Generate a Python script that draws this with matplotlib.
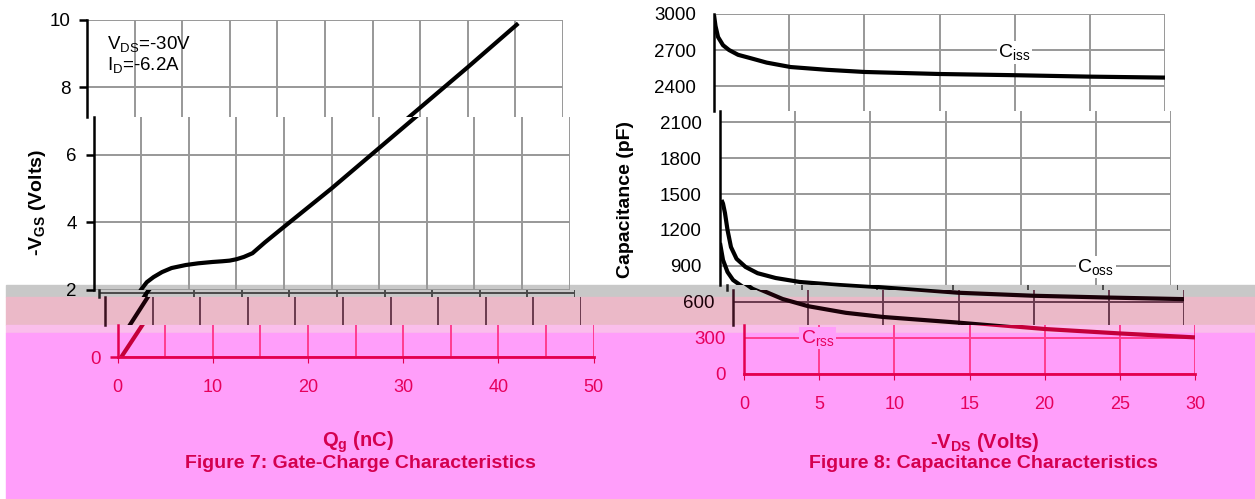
import matplotlib
matplotlib.use('Agg')
import matplotlib.pyplot as plt
from matplotlib.patches import Rectangle
from matplotlib.ticker import MultipleLocator

plt.rcParams['font.family'] = ['Liberation Sans', 'DejaVu Sans']
plt.rcParams['mathtext.fontset'] = 'custom'
plt.rcParams['mathtext.rm'] = 'Liberation Sans'
plt.rcParams['mathtext.it'] = 'Liberation Sans:italic'
plt.rcParams['mathtext.bf'] = 'Liberation Sans:bold'

# Figure 7: gate charge
qg = [0.4, 2.5, 5.0, 5.6, 6.3, 7.2, 8.2, 9.7, 11.0, 12.5, 13.5, 14.3, 15.0, 15.8,
      16.7, 18.0, 20.0, 25.0, 30.0, 35.0, 40.0, 45.3]
vgs = [0.0, 0.9, 2.0, 2.22, 2.37, 2.52, 2.64, 2.73, 2.78, 2.82, 2.84, 2.86, 2.90, 2.97,
       3.08, 3.40, 3.86, 5.0, 6.2, 7.4, 8.6, 9.9]

# Figure 8: capacitance
vds_iss = [0.0, 0.1, 0.27, 0.6, 1.0, 1.6, 2.4, 3.5, 5.1, 7.5, 10, 15, 20, 25, 30]
ciss = [2992, 2900, 2808, 2740, 2700, 2660, 2633, 2595, 2558, 2535, 2517, 2500, 2490, 2478, 2470]
vds_oss = [0.1, 0.2, 0.33, 0.5, 0.73, 1.1, 1.7, 2.5, 3.7, 5.3, 7.5, 10, 15, 20, 25, 30]
coss = [1450, 1420, 1342, 1200, 1058, 960, 892, 840, 800, 767, 745, 725, 677, 652, 637, 624]
vds_rss = [0.0, 0.2, 0.5, 0.87, 1.7, 3.3, 5.0, 7.5, 10, 15, 20, 25, 30]
crss = [1092, 950, 850, 783, 710, 625, 565, 510, 475, 428, 375, 338, 305]

W, H = 1255, 499
fig = plt.figure(figsize=(W / 100, H / 100), dpi=100)

# scanned-page colour bands (gray seam, rose seam, pink tint)
bands = [(285, 297, '#c8c8c8'), (297, 325, '#ebb9c8'), (325, 333, '#fabeeb'), (333, 499, '#ff9efa')]
for y0, y1, col in bands:
    fig.patches.append(Rectangle((6 / W, 1 - y1 / H), 1, (y1 - y0) / H,
                                 transform=fig.transFigure, color=col, zorder=-5))

styles = {
    'white': dict(grid='#989898', spine='black', curve='black', text='black'),
    'gray': dict(grid='#4a4a4a', spine='#202020', curve='black', text='black'),
    'rose': dict(grid='#6a3a4e', spine='#3a1020', curve='#1a0008', text='#1a0008'),
    'pink': dict(grid='#ff3d8f', spine='#e3004f', curve='#c4003a', text='#e6005c'),
}


def strip(left, top, bot, width, xlim, ylim, st, xmaj, xmin, ystep, show_x, tlen, ypad, xpad):
    s = styles[st]
    ax = fig.add_axes([left / W, 1 - bot / H, width / W, (bot - top) / H])
    ax.set_facecolor('none')
    ax.set_xlim(*xlim)
    ax.set_ylim(*ylim)
    for sp in ax.spines.values():
        sp.set_visible(False)
    ax.spines['left'].set_visible(True)
    ax.spines['left'].set_color(s['spine'])
    ax.spines['left'].set_linewidth(1.8)
    ax.xaxis.set_major_locator(MultipleLocator(xmaj))
    ax.xaxis.set_minor_locator(MultipleLocator(xmin))
    ax.yaxis.set_major_locator(MultipleLocator(ystep))
    ax.set_axisbelow(True)
    ax.grid(which='both', color=s['grid'], lw=1.4)
    ax.tick_params(axis='y', length=tlen if st != 'gray' else 0, width=1.8, color=s['spine'],
                   labelsize=13.5, labelcolor=s['text'], pad=ypad, labelleft=(st != 'gray'))
    if show_x:
        ax.spines['bottom'].set_visible(True)
        ax.spines['bottom'].set_color(s['spine'])
        ax.spines['bottom'].set_linewidth(2)
        ax.tick_params(axis='x', which='major', length=4, color=s['spine'],
                       labelsize=13, labelcolor=s['text'], pad=xpad)
        ax.tick_params(axis='x', which='minor', length=0)
    else:
        ax.tick_params(axis='x', which='both', length=0, labelbottom=False)
    return ax


# ---- Figure 7 ----
def v(y):
    return (357 - y) / 33.7


left_strips = [
    (87, 20, 116.5, (v(116.5), 10), 'white'),
    (93.5, 116.5, 290, (v(290), v(116.5)), 'white'),
    (99, 290, 297, (2 - 4 / 33.7, 2 + 3 / 33.7), 'gray'),
    (105, 297, 325, (v(325), v(297)), 'rose'),
    (117.5, 325, 357, (0, v(325)), 'pink'),
]
left_axes = []
for lx, top, bot, yl, st in left_strips:
    ax = strip(lx, top, bot, 476, (0, 50), yl, st, 10, 5, 2, st == 'pink', 6, 6, 12)
    ax.plot(qg, vgs, color=styles[st]['curve'], lw=3, solid_capstyle='butt')
    left_axes.append(ax)

left_axes[0].text(2.1, v(44), r'V$_{\rm DS}$=-30V', fontsize=13.5, va='center', ha='left')
left_axes[0].text(2.1, v(65), r'I$_{\rm D}$=-6.2A', fontsize=13.5, va='center', ha='left')

# ---- Figure 8 ----
def c(y):
    return (374 - y) / 0.12


right_strips = [
    (714, 14, 111, (c(111), 3000), 'white'),
    (720, 111, 285, (c(285), c(111)), 'white'),
    (727, 285, 290, (c(290), c(285)), 'gray'),
    (733, 290, 325, (c(325), c(290)), 'rose'),
    (744, 325, 374, (0, c(325)), 'pink'),
]
right_axes = []
for lx, top, bot, yl, st in right_strips:
    ax = strip(lx, top, bot, 451, (0, 30), yl, st, 5, 5, 300, st == 'pink', 0, 13, 12)
    col = styles[st]['curve']
    ax.plot(vds_iss, ciss, color=col, lw=3, solid_capstyle='butt')
    ax.plot(vds_oss, coss, color=col, lw=3, solid_capstyle='butt')
    ax.plot(vds_rss, crss, color=col, lw=3, solid_capstyle='butt')
    right_axes.append(ax)

right_axes[0].text(20, 2680, r'C$_{\rm iss}$', fontsize=14, ha='center', va='center',
                   bbox=dict(facecolor='white', edgecolor='none', pad=1))
right_axes[1].text(25, 892, r'C$_{\rm oss}$', fontsize=14, ha='center', va='center',
                   bbox=dict(facecolor='white', edgecolor='none', pad=1))
right_axes[4].text(4.9, 300, r'C$_{\rm rss}$', fontsize=14, ha='center', va='center',
                   color='#e6005c', bbox=dict(facecolor='#ff9efa', edgecolor='none', pad=1))

# axis labels and captions
red = '#d4004f'
fig.text(37 / W, 1 - 203 / H, r'-V$_{\mathbf{GS}}$ (Volts)', rotation=90, fontsize=14,
         fontweight='bold', ha='center', va='center')
fig.text(626 / W, 1 - 200 / H, 'Capacitance (pF)', rotation=90, fontsize=14,
         fontweight='bold', ha='center', va='center')
fig.text(358 / W, 1 - 442 / H, r'Q$_{\mathbf{g}}$ (nC)', fontsize=14.5, fontweight='bold',
         color=red, ha='center', va='center')
fig.text(985 / W, 1 - 442 / H, r'-V$_{\mathbf{DS}}$ (Volts)', fontsize=14.5, fontweight='bold',
         color=red, ha='center', va='center')
fig.text(360 / W, 1 - 463 / H, 'Figure 7: Gate-Charge Characteristics', fontsize=14,
         fontweight='bold', color=red, ha='center', va='center')
fig.text(983 / W, 1 - 463 / H, 'Figure 8: Capacitance Characteristics', fontsize=14,
         fontweight='bold', color=red, ha='center', va='center')

fig.savefig('out.png', dpi=100)
